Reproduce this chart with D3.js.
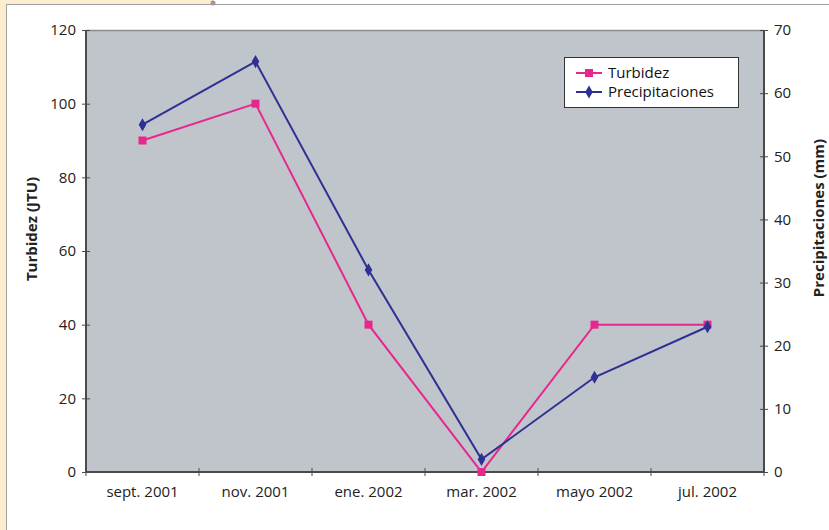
<!DOCTYPE html>
<html>
<head>
<meta charset="utf-8">
<script src="https://cdn.jsdelivr.net/npm/d3@7"></script>
<style>
  html, body { margin: 0; padding: 0; background: #fff; }
  svg { display: block; font-family: "Open Sans", "DejaVu Sans", sans-serif; }
</style>
</head>
<body>
<svg id="chart" width="829" height="530"></svg>
<script>
// Monthly samples
const months = ["sept. 2001", "nov. 2001", "ene. 2002", "mar. 2002", "mayo 2002", "jul. 2002"];
const turbidez = [90, 100, 40, 0, 40, 40];          // JTU
const precipitaciones = [55, 65, 32, 2, 15, 23];     // mm
const leftTicks = [0, 20, 40, 60, 80, 100, 120];
const rightTicks = [0, 10, 20, 30, 40, 50, 60, 70];

const svg = d3.select("#chart");
const W = 829, H = 530;
const plot = { left: 86, right: 764, top: 30, bottom: 472 };

// page frame
svg.append("rect").attr("x", 0).attr("y", 0).attr("width", W).attr("height", H).attr("fill", "#fff");
svg.append("rect").attr("x", 0).attr("y", 0).attr("width", 6).attr("height", H).attr("fill", "#fdecd0");
svg.append("rect").attr("x", 0).attr("y", 0).attr("width", 213).attr("height", 4).attr("fill", "#fdecd0");
svg.append("line").attr("x1", 6).attr("x2", W).attr("y1", 4.5).attr("y2", 4.5).attr("stroke", "#a0a0a0").attr("stroke-width", 1);
svg.append("line").attr("x1", 6.5).attr("x2", 6.5).attr("y1", 4).attr("y2", H).attr("stroke", "#a0a0a0").attr("stroke-width", 1);
svg.append("circle").attr("cx", 213).attr("cy", 3).attr("r", 2.5).attr("fill", "#9a9a9a");

// scales
const x = d3.scaleBand().domain(months).range([plot.left, plot.right]).padding(0);
const yL = d3.scaleLinear().domain([0, 120]).range([plot.bottom, plot.top]);
const yR = d3.scaleLinear().domain([0, 70]).range([plot.bottom, plot.top]);

// plot background
svg.append("rect")
  .attr("x", plot.left).attr("y", plot.top)
  .attr("width", plot.right - plot.left).attr("height", plot.bottom - plot.top)
  .attr("fill", "#c0c4cb");
svg.append("line").attr("x1", plot.left).attr("x2", plot.right)
  .attr("y1", plot.top + 0.5).attr("y2", plot.top + 0.5).attr("stroke", "#8a8d93").attr("stroke-width", 1.5);

const axisColor = "#4a4a4a";
const tickFont = 15;

// left axis
const gL = svg.append("g").attr("transform", `translate(${plot.left},0)`)
  .call(d3.axisLeft(yL).tickValues(leftTicks).tickSize(4).tickPadding(6));
gL.selectAll(".tick line").attr("x2", -4).attr("x1", 4);
// right axis
const gR = svg.append("g").attr("transform", `translate(${plot.right},0)`)
  .call(d3.axisRight(yR).tickValues(rightTicks).tickSize(4).tickPadding(6));
gR.selectAll(".tick line").attr("x1", -4).attr("x2", 4);
// bottom axis: ticks at category boundaries
const gB = svg.append("g").attr("transform", `translate(0,${plot.bottom})`)
  .call(d3.axisBottom(x).tickSize(0).tickPadding(14));
gB.selectAll(".tick text").attr("dy", "0.71em");
gB.selectAll(".boundary")
  .data(d3.range(months.length + 1))
  .join("line")
  .attr("x1", i => plot.left + i * x.bandwidth())
  .attr("x2", i => plot.left + i * x.bandwidth())
  .attr("y1", -4).attr("y2", 4)
  .attr("stroke", axisColor);

[gL, gR, gB].forEach(g => {
  g.select(".domain").attr("stroke", axisColor).attr("stroke-width", 2);
  g.selectAll(".tick line").attr("stroke", axisColor);
  g.selectAll(".tick text").attr("fill", "#222").attr("font-size", tickFont)
    .attr("font-family", "'Open Sans', 'DejaVu Sans', sans-serif");
});
gL.select(".domain").attr("d", `M0,${plot.bottom}V${plot.top}`);
gR.select(".domain").attr("d", `M0,${plot.bottom}V${plot.top}`);
gB.select(".domain").attr("d", `M${plot.left},0H${plot.right}`);

// axis titles
svg.append("text")
  .attr("transform", `translate(37,229) rotate(-90)`)
  .attr("text-anchor", "middle")
  .attr("font-size", 15).attr("font-weight", "bold").attr("fill", "#222")
  .text("Turbidez (JTU)");
svg.append("text")
  .attr("transform", `translate(824,218) rotate(-90)`)
  .attr("text-anchor", "middle")
  .attr("font-size", 15).attr("font-weight", "bold").attr("fill", "#222")
  .text("Precipitaciones (mm)");

const pink = "#e6288c", blue = "#2e3192";
const cx = d => x(d) + x.bandwidth() / 2;

// turbidity series
svg.append("path")
  .datum(turbidez)
  .attr("fill", "none").attr("stroke", pink).attr("stroke-width", 2)
  .attr("d", d3.line().x((d, i) => cx(months[i])).y(d => yL(d)));
svg.selectAll(".sq").data(turbidez).join("rect")
  .attr("x", (d, i) => cx(months[i]) - 4).attr("y", d => yL(d) - 4)
  .attr("width", 8).attr("height", 8).attr("fill", pink);

// precipitation series
svg.append("path")
  .datum(precipitaciones)
  .attr("fill", "none").attr("stroke", blue).attr("stroke-width", 2)
  .attr("d", d3.line().x((d, i) => cx(months[i])).y(d => yR(d)));
const diamond = d3.symbol().type(d3.symbolDiamond).size(50);
svg.selectAll(".dm").data(precipitaciones).join("path")
  .attr("transform", (d, i) => `translate(${cx(months[i])},${yR(d)})`)
  .attr("d", diamond).attr("fill", blue);

// legend
const lg = svg.append("g").attr("transform", "translate(564,57)");
lg.append("rect").attr("x", 0.5).attr("y", 0.5).attr("width", 174).attr("height", 50)
  .attr("fill", "#fff").attr("stroke", "#333").attr("stroke-width", 1);
const items = [{ name: "Turbidez", color: pink, shape: "sq" }, { name: "Precipitaciones", color: blue, shape: "dm" }];
items.forEach((it, i) => {
  const yy = 16 + i * 19;
  lg.append("line").attr("x1", 12).attr("x2", 38).attr("y1", yy).attr("y2", yy)
    .attr("stroke", it.color).attr("stroke-width", 2);
  if (it.shape === "sq") {
    lg.append("rect").attr("x", 21).attr("y", yy - 4).attr("width", 8).attr("height", 8).attr("fill", it.color);
  } else {
    lg.append("path").attr("transform", `translate(25,${yy})`).attr("d", diamond).attr("fill", it.color);
  }
  lg.append("text").attr("x", 44).attr("y", yy).attr("dy", "0.35em")
    .attr("font-size", 15).attr("fill", "#111").text(it.name);
});
</script>
</body>
</html>
